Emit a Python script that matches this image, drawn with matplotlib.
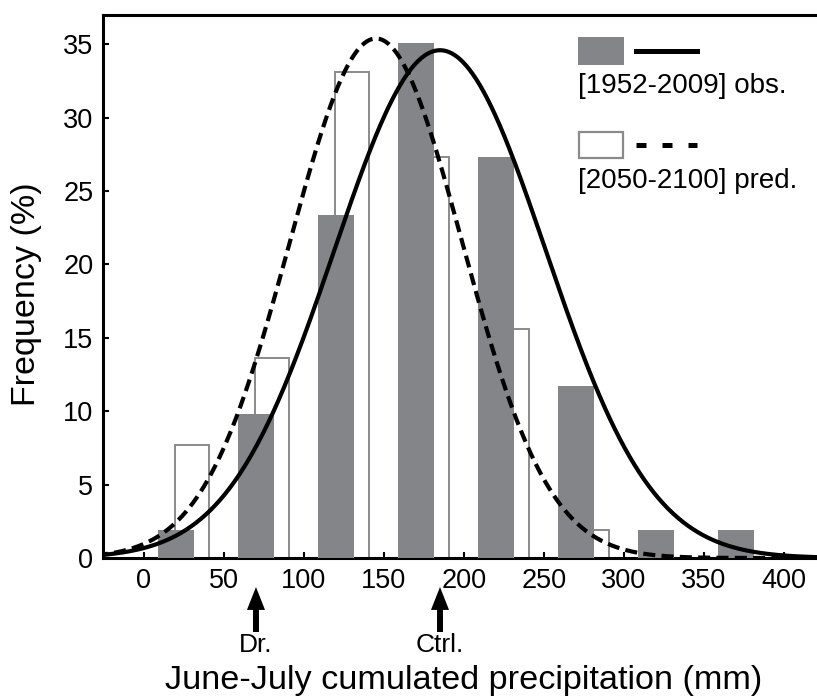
import numpy as np
import matplotlib
matplotlib.use("Agg")
import matplotlib.pyplot as plt
from matplotlib.patches import Rectangle
from matplotlib.lines import Line2D

plt.rcParams['font.family'] = ['Liberation Sans', 'DejaVu Sans']

# histogram bins (mm), frequencies in %
bin_mid = [25, 75, 125, 175, 225, 275, 325, 375]
obs_freq = [1.9, 9.8, 23.4, 35.1, 27.3, 11.7, 1.9, 1.9]
pred_freq = [7.7, 13.6, 33.1, 27.3, 15.6, 1.9, 0, 0]

# fitted normal curves: mean, sd, peak height
obs_fit = (185, 66, 34.6)
pred_fit = (145, 54, 35.4)

# marked precipitation levels
markers = {"Dr.": 70, "Ctrl.": 185}

GRAY = "#848588"
EDGE = "#8a8a8a"

fig = plt.figure(figsize=(8.17, 6.98), dpi=100)
ax = fig.add_axes([103 / 817, 1 - 558 / 698, 1 - 103 / 817, (558 - 15) / 698])

mids = np.array(bin_mid)
# white (predicted) bars behind, gray (observed) bars in front
ax.bar(mids + 5, pred_freq, width=21, facecolor="white", edgecolor=EDGE,
       linewidth=1.4, zorder=2)
ax.bar(mids - 5, obs_freq, width=22, facecolor=GRAY, edgecolor="none", zorder=3)

x = np.linspace(-30, 425, 600)
for (mu, sd, peak), ls in [(obs_fit, "-"), (pred_fit, (0, (2.9, 1.5)))]:
    y = peak * np.exp(-(x - mu) ** 2 / (2 * sd ** 2))
    ax.plot(x, y, color="black", linewidth=3.0, linestyle=ls, zorder=4,
            solid_capstyle="butt")

ax.set_xlim(-25.6, 420.6)
ax.set_ylim(0, 37)
ax.set_xticks(np.arange(0, 401, 50))
ax.set_yticks(np.arange(0, 36, 5))
ax.tick_params(direction="in", length=4, width=1.5, labelsize=19.5, pad=7)
for s in ["left", "bottom", "top"]:
    ax.spines[s].set_linewidth(2.2)
ax.spines["right"].set_visible(False)

fig.text(27 / 817, 1 - 294 / 698, "Frequency (%)", fontsize=24.5, rotation=90,
         ha="center", va="center")
fig.text(464 / 817, 1 - 680 / 698, "June-July cumulated precipitation (mm)",
         fontsize=24.7, ha="center", va="center")

# arrows below the axis
for label, val in markers.items():
    ax.annotate("", xy=(val, 1 - 587 / 698), xycoords=("data", "figure fraction"),
                xytext=(val, 1 - 632 / 698), textcoords=("data", "figure fraction"),
                arrowprops=dict(width=4.3, headwidth=13, headlength=16.5,
                                shrink=0, facecolor="black", edgecolor="none"))
    ax.annotate(label, xy=(val, 1 - 645 / 698), xycoords=("data", "figure fraction"),
                ha="center", va="center", fontsize=19)

# hand-made legend
W, H = 817, 698
def fx(px):
    return px / W
def fy(py):
    return 1 - py / H

fig.add_artist(Rectangle((fx(578), fy(65)), fx(624) - fx(578), fy(37) - fy(65),
                         facecolor=GRAY, edgecolor="none", transform=fig.transFigure))
fig.add_artist(Line2D([fx(636), fx(697)], [fy(51), fy(51)], color="black",
                      linewidth=3.6, transform=fig.transFigure))
fig.text(fx(578), fy(86), "[1952-2009] obs.", fontsize=20, ha="left", va="center")

fig.add_artist(Rectangle((fx(579), fy(158)), fx(623) - fx(579), fy(132) - fy(158),
                         facecolor="white", edgecolor=EDGE, linewidth=1.6,
                         transform=fig.transFigure))
fig.add_artist(Line2D([fx(636), fx(697)], [fy(145), fy(145)], color="black",
                      linewidth=3.6, linestyle=(0, (2.0, 3.2)), transform=fig.transFigure))
fig.text(fx(578), fy(181), "[2050-2100] pred.", fontsize=20, ha="left", va="center")

fig.savefig("out.png", dpi=100)
